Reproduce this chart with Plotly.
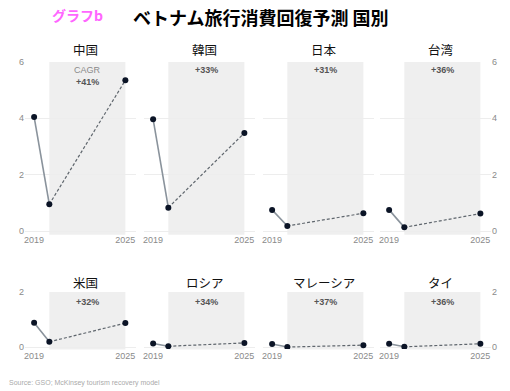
import plotly.graph_objects as go

countries = ["中国", "韓国", "日本", "台湾", "米国", "ロシア", "マレーシア", "タイ"]
years = [2019, 2020, 2025]
values = [
    [4.05, 0.95, 5.35],
    [3.97, 0.83, 3.48],
    [0.75, 0.18, 0.63],
    [0.75, 0.13, 0.62],
    [0.88, 0.19, 0.87],
    [0.13, 0.03, 0.15],
    [0.11, 0.00, 0.07],
    [0.12, 0.01, 0.12],
]
cagr = ["+41%", "+33%", "+31%", "+36%", "+32%", "+34%", "+37%", "+36%"]
row_max = [6, 2]
y_ticks = [[0, 2, 4, 6], [0, 2]]
x_ticks = [2019, 2025]

W, H = 510, 391
col_left = [25, 144, 263, 380]
col_w = 111
rows_px = [(62, 233), (292, 349)]

fig = go.Figure()
layout = {}
annotations = []
shapes = []
ff = "Liberation Sans, Arial, sans-serif"
cjk = "Noto Sans CJK JP, sans-serif"

for i, name in enumerate(countries):
    r, c = divmod(i, 4)
    n = i + 1
    xa = "xaxis" if n == 1 else f"xaxis{n}"
    ya = "yaxis" if n == 1 else f"yaxis{n}"
    xr = "x" if n == 1 else f"x{n}"
    yr = "y" if n == 1 else f"y{n}"
    x0 = col_left[c] / W
    x1 = (col_left[c] + col_w) / W
    top, bot = rows_px[r]
    layout[xa] = dict(
        domain=[x0, x1], anchor=yr, range=[2018.4, 2025.7],
        tickvals=x_ticks, ticktext=[str(t) for t in x_ticks],
        showgrid=False, zeroline=False, showline=False, ticks="",
        tickfont=dict(family=ff, size=9, color="#8a8a8a"),
        fixedrange=True, automargin=False,
    )
    ydict = dict(
        domain=[1 - bot / H, 1 - top / H], anchor=xr,
        range=[-0.07 * row_max[r] / 6 if r == 0 else -0.07, row_max[r]],
        tickvals=y_ticks[r], showgrid=True, gridcolor="#ededed", gridwidth=1,
        zeroline=False, showline=False, ticks="",
        tickfont=dict(family=ff, size=9, color="#8a8a8a"),
        fixedrange=True, automargin=False,
    )
    if c == 0:
        ydict["side"] = "left"
        ydict["showticklabels"] = True
    elif c == 3:
        ydict["side"] = "right"
        ydict["showticklabels"] = True
    else:
        ydict["showticklabels"] = False
    layout[ya] = ydict

    shapes.append(dict(type="rect", xref=xr, yref=f"{yr} domain", x0=2020, x1=2025,
                       y0=-0.01, y1=1, fillcolor="#efefef", line=dict(width=0), layer="below"))

    v = values[i]
    fig.add_trace(go.Scatter(x=years[:2], y=v[:2], mode="lines", xaxis=xr, yaxis=yr,
                             line=dict(color="#8a939c", width=1.6), showlegend=False, hoverinfo="skip"))
    fig.add_trace(go.Scatter(x=years[1:], y=v[1:], mode="lines", xaxis=xr, yaxis=yr,
                             line=dict(color="#5f666d", width=1.2, dash="3px,2px"), showlegend=False, hoverinfo="skip"))
    fig.add_trace(go.Scatter(x=years, y=v, mode="markers", xaxis=xr, yaxis=yr,
                             marker=dict(color="#0b1426", size=6), showlegend=False))

    # country title
    cx = (col_left[c] + col_w / 2 + 5) / W
    ty = 50 if r == 0 else 282
    annotations.append(dict(text=name, x=cx, y=1 - ty / H, xref="paper", yref="paper",
                            showarrow=False, xanchor="center", yanchor="middle",
                            font=dict(family=cjk, size=12.5, color="#111111")))
    # CAGR labels
    sx = (col_left[c] + (2022.5 - 2018.4) / 7.3 * col_w) / W
    ly = 70 if r == 0 else 302
    if i == 0:
        annotations.append(dict(text="CAGR", x=sx, y=1 - ly / H, xref="paper", yref="paper",
                                showarrow=False, xanchor="center", yanchor="middle",
                                font=dict(family=ff, size=9, color="#8a8a8a")))
        annotations.append(dict(text="<b>" + cagr[i] + "</b>", x=sx, y=1 - 82 / H, xref="paper", yref="paper",
                                showarrow=False, xanchor="center", yanchor="middle",
                                font=dict(family=ff, size=9, color="#555555")))
    else:
        annotations.append(dict(text="<b>" + cagr[i] + "</b>", x=sx, y=1 - ly / H, xref="paper", yref="paper",
                                showarrow=False, xanchor="center", yanchor="middle",
                                font=dict(family=ff, size=9, color="#555555")))

annotations.append(dict(text="<b>グラフb</b>", x=77 / W, y=1 - 15 / H, xref="paper", yref="paper",
                        showarrow=False, xanchor="center", yanchor="middle",
                        font=dict(family=cjk, size=14, color="#ff66ff")))
annotations.append(dict(text="<b>ベトナム旅行消費回復予測 国別</b>", x=261 / W, y=1 - 17 / H, xref="paper", yref="paper",
                        showarrow=False, xanchor="center", yanchor="middle",
                        font=dict(family=cjk, size=18, color="#000000")))
annotations.append(dict(text="Source: GSO; McKinsey tourism recovery model", x=7 / W, y=1 - 383 / H,
                        xref="paper", yref="paper", showarrow=False, xanchor="left", yanchor="middle",
                        font=dict(family=ff, size=7, color="#aaaaaa")))

fig.update_layout(
    width=W, height=H, margin=dict(l=0, r=0, t=0, b=0, autoexpand=False),
    paper_bgcolor="white", plot_bgcolor="rgba(0,0,0,0)",
    annotations=annotations, shapes=shapes, **layout,
)
fig.write_html("out.html", config={"displayModeBar": False},
               post_script="document.body.style.margin='0';document.body.style.overflow='hidden';")
